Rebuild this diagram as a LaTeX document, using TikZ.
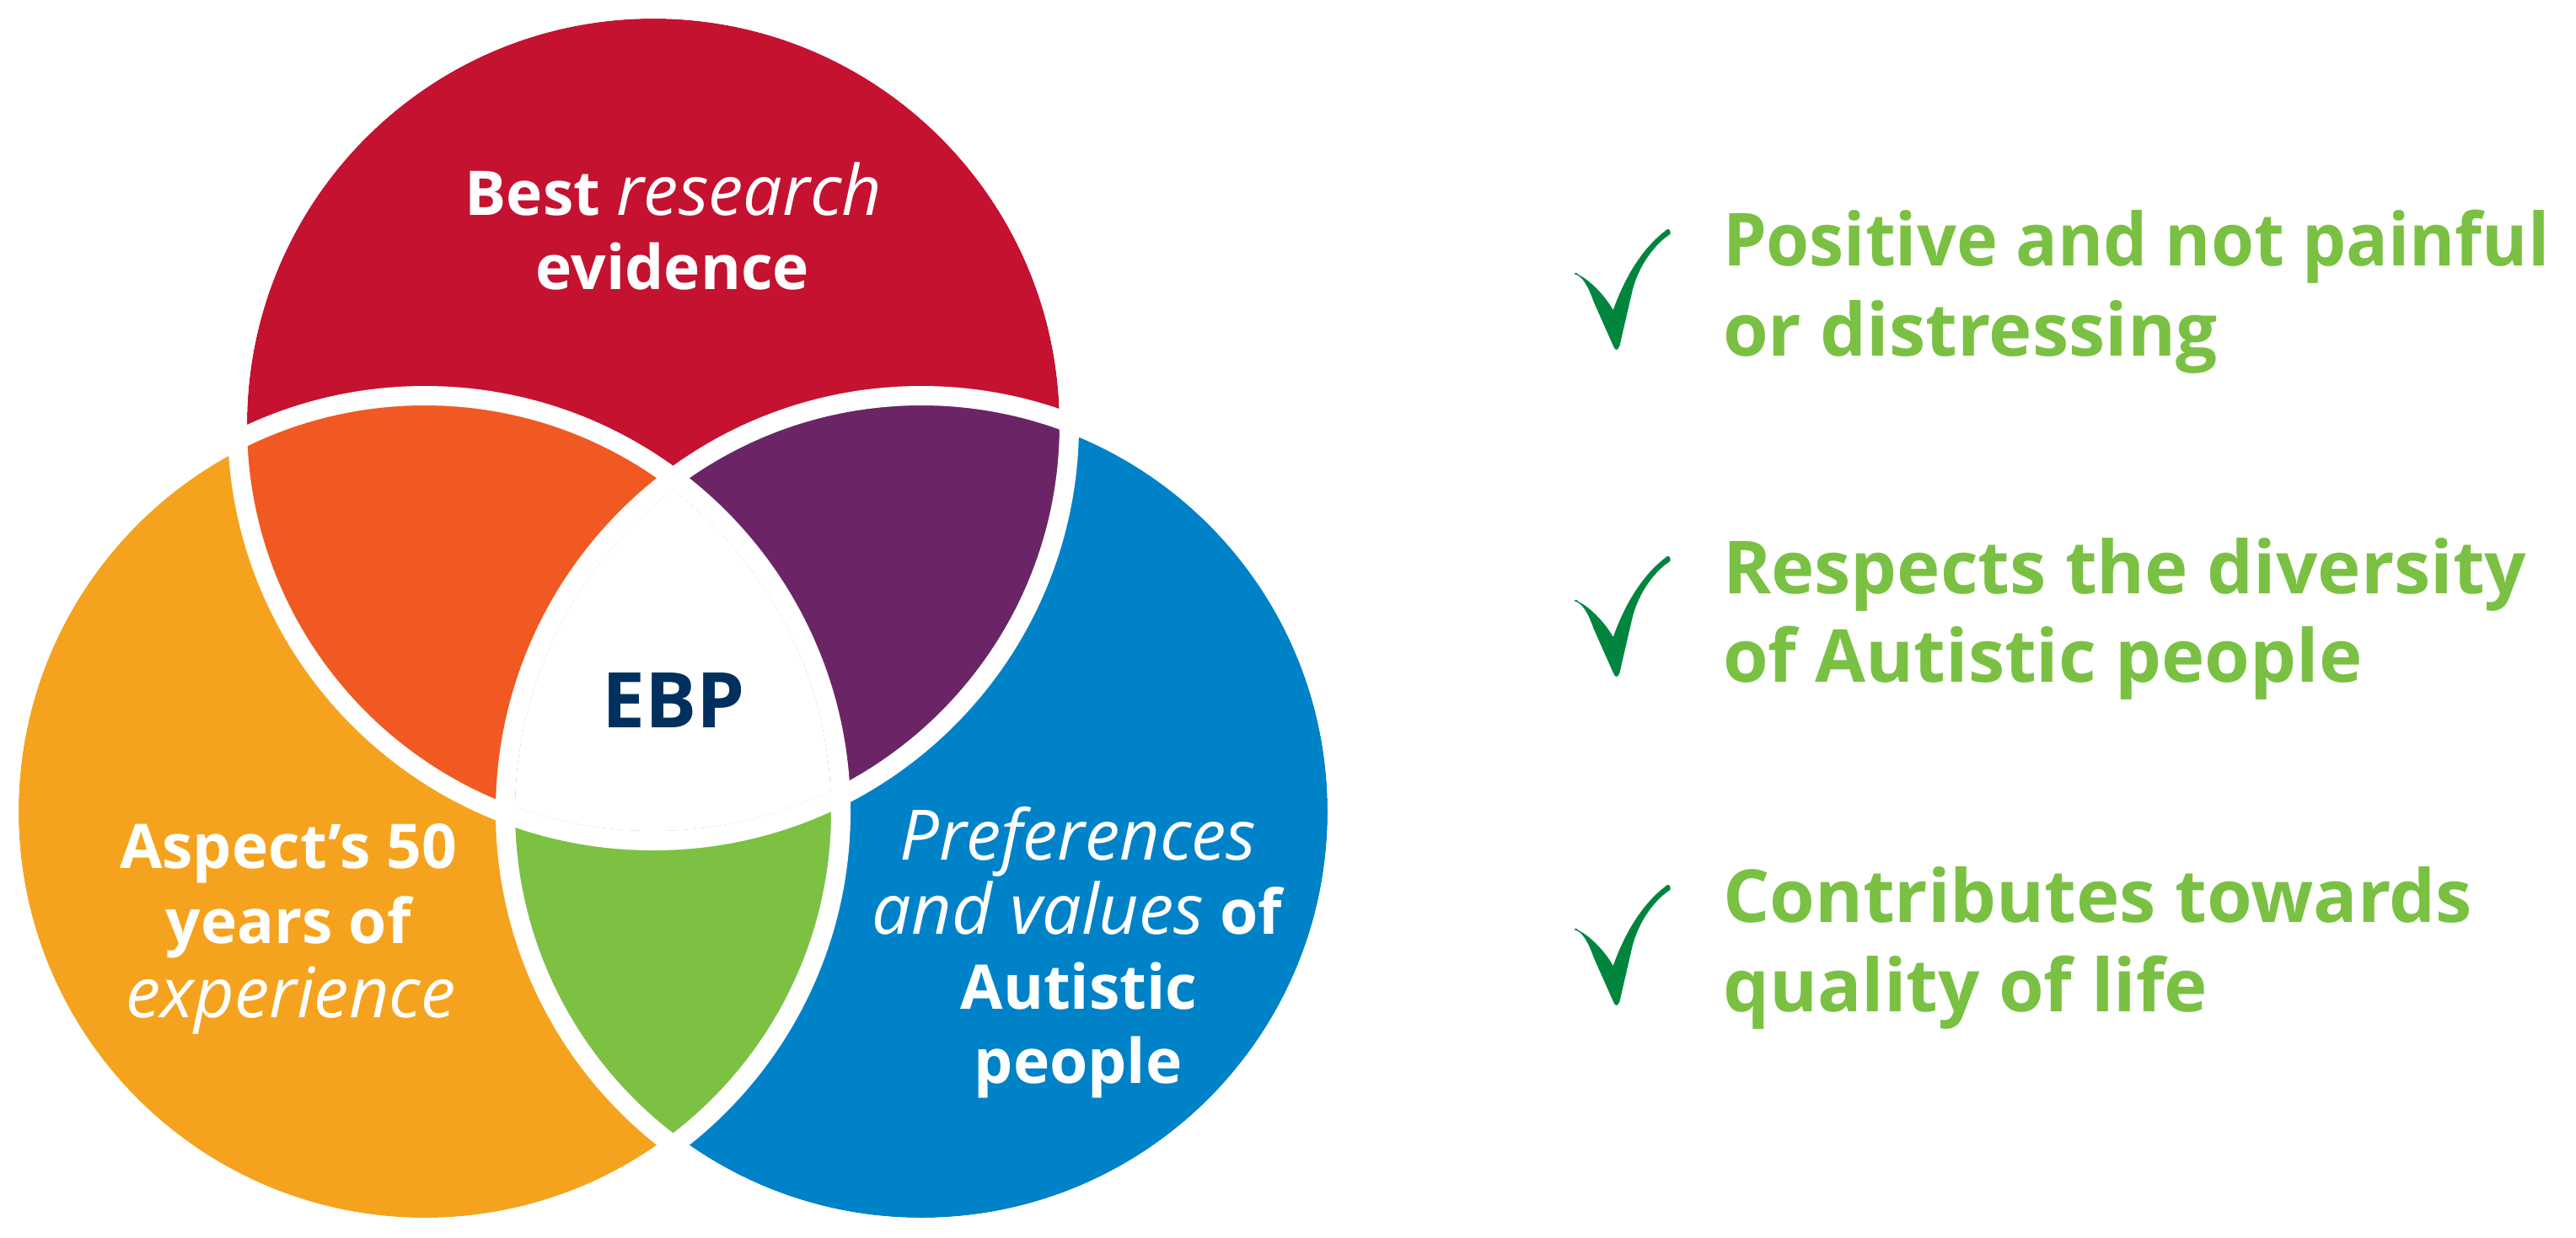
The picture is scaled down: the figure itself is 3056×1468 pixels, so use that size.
\documentclass[tikz,border=0pt]{standalone}
\usepackage{graphicx}
\usepackage{fontspec}
\setmainfont{Open Sans}
\definecolor{redc}{HTML}{C41230}
\definecolor{orangec}{HTML}{F5A31E}
\definecolor{orangered}{HTML}{F05A22}
\definecolor{purplec}{HTML}{6B2567}
\definecolor{bluec}{HTML}{0082C8}
\definecolor{greenc}{HTML}{7CC142}
\definecolor{navyc}{HTML}{00305E}
\definecolor{txtgreen}{HTML}{7AC143}
\definecolor{checkc}{HTML}{00853F}
\newcommand{\handtxt}[1]{{\mdseries\itshape\fontsize{23.5}{28}\selectfont #1}}
\tikzset{
  every node/.style={inner sep=0pt, outer sep=0pt},
  gap/.style={draw=white, line width=0.23cm},
  wlabel/.style={text=white, font=\bfseries\fontsize{20.8}{25}\selectfont, anchor=base},
  ebplabel/.style={text=navyc, font=\bfseries\fontsize{25.9}{30}\selectfont, anchor=base},
  rlabel/.style={text=txtgreen, font=\bfseries\fontsize{24.7}{30}\selectfont, anchor=base west},
  checkmark/.pic={
    \fill[checkc] (-50.4,-90) .. controls (-40,-88) and (-33,-74) .. (-27,-57)
      -- (-3.9,-5) .. controls (-2,-1) .. (0,0)
      .. controls (2,-1) .. (3.9,-5)
      -- (19.4,-72) .. controls (27,-100) and (45,-125) .. (63.6,-137)
      .. controls (65,-140) and (63,-144) .. (60.4,-143)
      .. controls (40,-128) and (15,-100) .. (-3.9,-47)
      .. controls (-12,-62) and (-30,-82) .. (-45,-89)
      .. controls (-48,-92) .. (-50.4,-90) -- cycle;
  }
}
\begin{document}
\begin{tikzpicture}[x=0.01cm,y=-0.01cm]
\useasboundingbox (0,0) rectangle (3056,1468);
\coordinate (cR) at (775,504);
\coordinate (cO) at (504,963);
\coordinate (cB) at (1093,963);
% base circles
\fill[redc] (cR) circle[radius=482];
\fill[orangec] (cO) circle[radius=482];
\fill[bluec] (cB) circle[radius=482];
% pairwise intersections
\begin{scope}
  \clip (cR) circle[radius=482];
  \fill[orangered] (cO) circle[radius=482];
\end{scope}
\begin{scope}
  \clip (cR) circle[radius=482];
  \fill[purplec] (cB) circle[radius=482];
\end{scope}
\begin{scope}
  \clip (cO) circle[radius=482];
  \fill[greenc] (cB) circle[radius=482];
\end{scope}
% triple intersection
\begin{scope}
  \clip (cR) circle[radius=482];
  \clip (cO) circle[radius=482];
  \fill[white] (cB) circle[radius=482];
\end{scope}
% white gaps outside each circle
\draw[gap] (cR) circle[radius=493.5];
\draw[gap] (cO) circle[radius=493.5];
\draw[gap] (cB) circle[radius=493.5];
% circle labels
\node[wlabel] (r1) at (799,255) {Best \handtxt{research}};
\node[wlabel] (r2) at (798,343) {evidence};
\node[ebplabel] (ebp) at (799,863) {EBP};
\node[wlabel] (o1) at (342,1030) {Aspect’s 50};
\node[wlabel] (o2) at (342,1119) {years of};
\node[wlabel] (o3) at (345,1207) {\handtxt{experience}};
\node[wlabel] (b1) at (1279,1020) {\handtxt{Preferences}};
\node[wlabel] (b2) at (1278,1108) {\handtxt{and values} of};
\node[wlabel] (b3) at (1280,1197) {Autistic};
\node[wlabel] (b4) at (1279,1285) {people};
% right column
\pic at (1917.6,415) {checkmark};
\pic at (1917.6,803) {checkmark};
\pic at (1917.6,1193) {checkmark};
\node[rlabel] (t1a) at (2044,315) {\scalebox{0.95}[1]{Positive and not painful}};
\node[rlabel] (t1b) at (2044,422) {or distressing};
\node[rlabel] (t2a) at (2044,704) {Respects the diversity};
\node[rlabel] (t2b) at (2044,809) {of Autistic people};
\node[rlabel] (t3a) at (2044,1094) {Contributes towards};
\node[rlabel] (t3b) at (2044,1200) {quality of life};
\end{tikzpicture}
\end{document}
